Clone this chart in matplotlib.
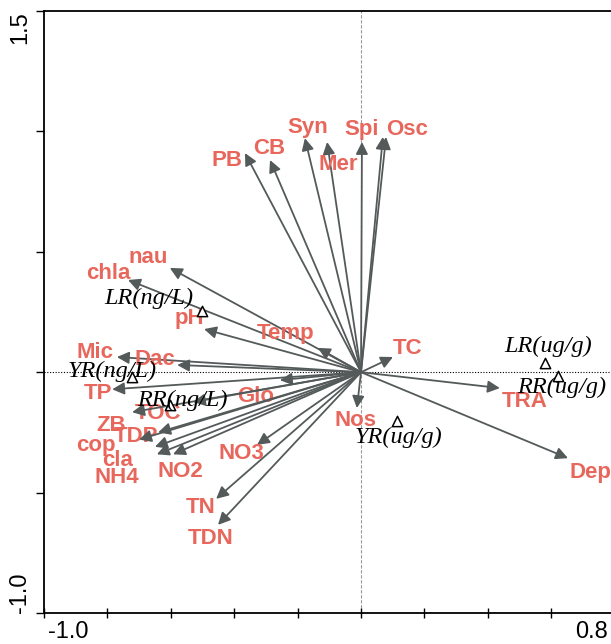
import matplotlib.pyplot as plt
from matplotlib.transforms import ScaledTranslation

# species / environmental vectors (arrow tips, RDA axes 1 and 2)
arrow_names = ['Syn', 'Mer', 'Spi', 'Osc', '', 'CB', 'PB', 'nau', 'chla', 'pH', 'Temp', 'TC',
               'Mic', 'Dac', 'TP', 'Glo', 'TOC', 'ZB', 'TDP', 'cop', 'cla', 'NH4', 'NO2', 'NO3',
               'TN', 'TDN', 'Nos', 'TRA', 'Dep']
arrow_x = [-0.177, -0.107, 0.003, 0.069, 0.079, -0.287, -0.366, -0.603, -0.735, -0.495, -0.136, 0.101,
           -0.770, -0.580, -0.785, -0.256, -0.530, -0.722, -0.640, -0.700, -0.650, -0.644, -0.593, -0.328,
           -0.457, -0.451, -0.013, 0.438, 0.653]
arrow_y = [0.972, 0.956, 0.956, 0.977, 0.977, 0.881, 0.910, 0.433, 0.383, 0.179, 0.101, 0.063,
           0.063, 0.030, -0.071, -0.033, -0.124, -0.166, -0.250, -0.280, -0.310, -0.341, -0.341, -0.302,
           -0.526, -0.634, -0.149, -0.066, -0.357]

# sample sites
site_names = ['LR(ng/L)', 'YR(ng/L)', 'RR(ng/L)', 'YR(ug/g)', 'LR(ug/g)', 'RR(ug/g)']
site_x = [-0.502, -0.722, -0.603, 0.114, 0.580, 0.621]
site_y = [0.254, -0.020, -0.137, -0.203, 0.038, -0.016]

# label offsets in pixels (layout only)
arrow_off = {'Syn': (3, 11), 'Mer': (11, -23), 'Spi': (0, 12), 'Osc': (24, 7), 'CB': (-1, 12),
             'PB': (-18, -7), 'nau': (-22, 10), 'chla': (-20, 6), 'pH': (-15, 11), 'Temp': (-32, 14),
             'TC': (15, 9), 'Mic': (-22, 5), 'Dac': (-22, 5), 'TP': (-14, -4), 'Glo': (-24, -16),
             'TOC': (-35, -11), 'ZB': (-21, -13), 'TDP': (-22, -4), 'cop': (-43, -6), 'cla': (-37, -14),
             'NH4': (-40, -23), 'NO2': (7, -17), 'NO3': (-16, -9), 'TN': (-16, -9), 'TDN': (-7, -14),
             'Nos': (-1, -12), 'TRA': (25, -13), 'Dep': (22, -14)}
site_off = [(-53, 13), (-20, 6), (13, 5), (1, -16), (3, 17), (4, -11)]

fig = plt.figure(figsize=(6.11, 6.44), dpi=100)
ax = fig.add_axes([44 / 611, 31 / 644, 570.6 / 611, 602 / 644])
ax.set_xlim(-1.0, 0.8)
ax.set_ylim(-1.0, 1.5)

ax.axhline(0, color='black', lw=0.8, ls=(0, (1, 1.5)), zorder=1)
ax.axvline(0, color='#999999', lw=0.8, ls=(0, (3, 1.5)), zorder=1)

arrow_col = '#545a5a'
label_col = '#e8675c'
for name, x, y in zip(arrow_names, arrow_x, arrow_y):
    ax.annotate('', xy=(x, y), xytext=(0, 0),
                arrowprops=dict(arrowstyle='-|>', color=arrow_col, lw=1.3,
                                mutation_scale=18, shrinkA=0, shrinkB=0))
    if name:
        ax.annotate(name, xy=(x, y), xytext=arrow_off[name], textcoords='offset pixels',
                    ha='center', va='center', color=label_col, fontsize=16,
                    fontweight='bold', family='Liberation Sans')

ax.scatter(site_x, site_y, marker='^', s=55, facecolors='white', edgecolors='black',
           linewidths=1.1, zorder=4)
for name, x, y, off in zip(site_names, site_x, site_y, site_off):
    ax.annotate(name, xy=(x, y), xytext=off, textcoords='offset pixels', ha='center',
                va='center', fontsize=17.5, style='italic', family='Liberation Serif', zorder=5)

ax.spines['right'].set_visible(False)
for s in ['left', 'bottom', 'top']:
    ax.spines[s].set_linewidth(1.3)

ax.set_xticks([-1.0, -0.8, -0.6, -0.4, -0.2, 0.0, 0.2, 0.4, 0.6, 0.8])
ax.set_xticklabels(['-1.0', '', '', '', '', '', '', '', '', '0.8'])
ax.set_yticks([-1.0, -0.5, 0.0, 0.5, 1.0, 1.5])
ax.set_yticklabels(['-1.0', '', '', '', '', '1.5'])
ax.tick_params(axis='x', direction='inout', length=7, width=1, labelsize=17, pad=2)
ax.tick_params(axis='y', direction='out', length=6, width=1, labelsize=17, pad=3)
xl = ax.get_xticklabels()
xl[0].set_ha('left')
xl[0].set_transform(xl[0].get_transform() + ScaledTranslation(4 / 100, 0, fig.dpi_scale_trans))
xl[-1].set_ha('right')
xl[-1].set_transform(xl[-1].get_transform() + ScaledTranslation(-7 / 100, 0, fig.dpi_scale_trans))
for t in ax.get_yticklabels():
    t.set_rotation(90)
yl = ax.get_yticklabels()
yl[0].set_va('bottom')
yl[-1].set_va('top')
for t in yl:
    t.set_ha('right')
for t in xl + yl:
    t.set_family('Liberation Sans')

fig.savefig('out.png', dpi=100)
